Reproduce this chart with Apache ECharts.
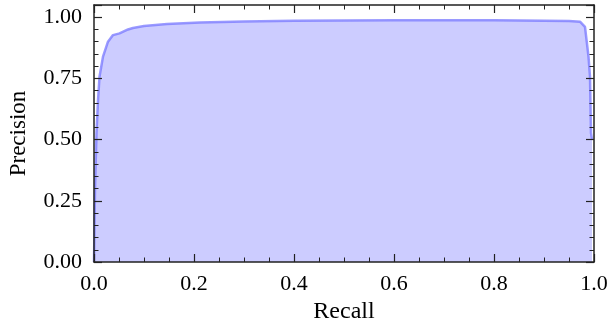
<!DOCTYPE html>
<html>
<head>
<meta charset="utf-8">
<script src="https://cdn.jsdelivr.net/npm/echarts@6/dist/echarts.min.js"></script>
<style>html,body{margin:0;padding:0;background:#fff;}#c{width:608px;height:321px;}</style>
</head>
<body>
<div id="c"></div>
<script>
const recall = [0, 0.001, 0.002, 0.005, 0.008, 0.011, 0.018, 0.028, 0.038, 0.041, 0.051, 0.068, 0.078, 0.1, 0.146, 0.212, 0.3, 0.4, 0.5, 0.6, 0.7, 0.8, 0.9, 0.95, 0.972, 0.982, 0.989, 0.992, 0.994, 0.996];
const precision = [0, 0.15, 0.3, 0.527, 0.66, 0.757, 0.839, 0.90, 0.927, 0.92, 0.934, 0.95, 0.956, 0.964, 0.972, 0.978, 0.983, 0.986, 0.987, 0.988, 0.988, 0.988, 0.986, 0.985, 0.982, 0.961, 0.839, 0.757, 0.527, 0.5];
const xTicks = [0.0, 0.2, 0.4, 0.6, 0.8, 1.0];
const yTicks = [0.00, 0.25, 0.50, 0.75, 1.00];

const FONT = 'Liberation Serif';
const axisCol = '#222';
function xa(pos, labels) {
  return {
    type: 'value', position: pos, min: 0, max: 1, interval: 0.2, z: 10,
    name: labels ? 'Recall' : '', nameLocation: 'middle', nameGap: 36,
    nameTextStyle: {fontFamily: FONT, fontSize: 24, color: '#000'},
    axisLine: {show: true, onZero: false, lineStyle: {color: axisCol, width: 1.5}},
    axisTick: {show: true, inside: true, length: 8, lineStyle: {color: axisCol, width: 1.2}},
    minorTick: {show: true, splitNumber: 4, length: 4.5, lineStyle: {color: axisCol, width: 1}},
    splitLine: {show: false},
    axisLabel: {show: labels, fontFamily: FONT, fontSize: 22, color: '#000', margin: 11,
      formatter: v => xTicks.some(t => Math.abs(t - v) < 1e-9) ? v.toFixed(1) : ''}
  };
}
function ya(pos, labels) {
  return {
    type: 'value', position: pos, min: 0, max: 1.05, interval: 0.25, z: 10,
    name: labels ? 'Precision' : '', nameLocation: 'middle', nameGap: 64,
    nameTextStyle: {fontFamily: FONT, fontSize: 23, color: '#000'},
    axisLine: {show: true, onZero: false, lineStyle: {color: axisCol, width: 1.5}},
    axisTick: {show: true, inside: true, length: 8, lineStyle: {color: axisCol, width: 1.2}},
    minorTick: {show: true, splitNumber: 5, length: 4.5, lineStyle: {color: axisCol, width: 1}},
    splitLine: {show: false},
    axisLabel: {show: labels, fontFamily: FONT, fontSize: 22, color: '#000', margin: 12,
      formatter: v => yTicks.some(t => Math.abs(t - v) < 1e-9) ? v.toFixed(2) : ''}
  };
}
const chart = echarts.init(document.getElementById('c'), null, {renderer: 'canvas'});
chart.setOption({
  animation: false,
  grid: {left: 94, right: 14, top: 5, bottom: 59, containLabel: false, outerBoundsMode: 'none',
    show: true, borderColor: axisCol, borderWidth: 0, backgroundColor: 'transparent'},
  xAxis: [xa('bottom', true), xa('top', false)],
  yAxis: [ya('left', true), ya('right', false)],
  series: [{
    type: 'line', xAxisIndex: 0, yAxisIndex: 0,
    data: recall.map((r, i) => [r, precision[i]]),
    showSymbol: false, symbol: 'none', smooth: false,
    lineStyle: {color: 'rgba(120,120,255,0.75)', width: 2.5},
    areaStyle: {color: '#ccccff', opacity: 1, origin: 'start'},
    z: 1
  }]
});
</script>
</body>
</html>
